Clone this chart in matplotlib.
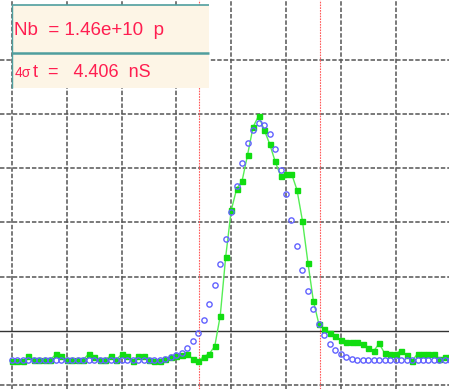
import matplotlib
matplotlib.use('Agg')
import matplotlib.pyplot as plt
from matplotlib.patches import Rectangle

plt.rcParams['lines.scale_dashes'] = False
plt.rcParams['font.family'] = ['Liberation Sans', 'DejaVu Sans']

# time axis: one sample every 0.2 ns
dt = 0.2
n_samples = 81
time_ns = [i * dt for i in range(n_samples)]

# measured bunch profile (green squares), in divisions
measured = [
    -0.55, -0.55, -0.55, -0.46, -0.53, -0.53, -0.53, -0.53, -0.43, -0.46,
    -0.53, -0.53, -0.53, -0.53, -0.42, -0.47, -0.53, -0.53, -0.46, -0.53,
    -0.43, -0.46, -0.55, -0.46, -0.46, -0.53, -0.55, -0.55, -0.52, -0.48,
    -0.46, -0.44, -0.42, -0.52, -0.55, -0.47, -0.42, -0.28, 0.28, 1.37,
    2.22, 2.62, 2.77, 3.25, 3.76, 3.96, 3.71, 3.45, 3.13, 2.86,
    2.90, 2.90, 2.60, 2.03, 1.26, 0.55, 0.13, 0.03, -0.03, -0.10,
    -0.17, -0.20, -0.20, -0.20, -0.24, -0.32, -0.37, -0.23, -0.41, -0.42,
    -0.42, -0.36, -0.44, -0.55, -0.42, -0.42, -0.42, -0.42, -0.52, -0.47,
    -0.47,
]

# gaussian fit (blue circles)
fitted = [
    -0.53, -0.53, -0.53, -0.53, -0.53, -0.53, -0.53, -0.53, -0.53, -0.53,
    -0.53, -0.53, -0.53, -0.53, -0.53, -0.53, -0.53, -0.53, -0.53, -0.53,
    -0.53, -0.53, -0.53, -0.53, -0.53, -0.53, -0.53, -0.53, -0.52, -0.48,
    -0.45, -0.40, -0.31, -0.18, -0.03, 0.20, 0.49, 0.84, 1.24, 1.70,
    2.20, 2.67, 3.09, 3.46, 3.71, 3.83, 3.80, 3.63, 3.36, 2.97,
    2.52, 2.05, 1.57, 1.13, 0.73, 0.40, 0.13, -0.08, -0.24, -0.35,
    -0.42, -0.48, -0.52, -0.53, -0.53, -0.53, -0.53, -0.53, -0.53, -0.53,
    -0.53, -0.53, -0.53, -0.53, -0.53, -0.53, -0.53, -0.53, -0.53, -0.53,
    -0.53,
]

center_ns = 9.025
four_sigma_ns = 4.406
nb_text = 'Nb  = 1.46e+10  p'

W, H = 449, 389
fig = plt.figure(figsize=(W / 100, H / 100), dpi=100)
ax = fig.add_axes([0, 0, 1, 1])

# pixel layout: x = 12 + 27.4 px per ns, y grid every 54.3 px
ax.set_xlim(-12 / 27.4, (W - 12) / 27.4)
ax.set_ylim((331 - H) / 54.3, 331 / 54.3)
for s in ax.spines.values():
    s.set_visible(False)
ax.set_xticks([])
ax.set_yticks([])

dash = (0, (3.2, 1.4))
for k in range(8):
    ax.axvline(2 * k, color='#555555', lw=1.1, ls=dash, zorder=1)
for k in range(-1, 6):
    if k == 0:
        ax.axhline(0, color='#333333', lw=1.0, zorder=1)
    else:
        ax.axhline(k, color='#555555', lw=1.1, ls=dash, zorder=1)

# 4 sigma window
for xv in (center_ns - four_sigma_ns / 2, center_ns + four_sigma_ns / 2):
    ax.axvline(xv, color='#ff5a5a', lw=0.8, ls=(0, (1.2, 0.8)), zorder=2)

ax.plot(time_ns, measured, color='#55ee55', lw=1.0, zorder=3)
ax.plot(time_ns, measured, 's', color='#11dd11', markersize=3.6, zorder=4)
ax.plot(time_ns, fitted, 'o', mfc='none', mec='#6262ff', mew=1.0,
        markersize=3.8, zorder=5)

# info box (pixel coordinates -> figure fraction)
def fx(px):
    return px / W

def fy(py):
    return 1 - py / H

box_l, box_r, box_t, box_m, box_b = 12, 209, 5, 53, 88
teal = '#4f9e9e'
ax.add_patch(Rectangle((fx(box_l), fy(box_b)), fx(box_r - box_l), (box_b - box_t) / H,
                       transform=fig.transFigure, facecolor='#fdf5e6',
                       edgecolor='none', zorder=10))
ax.plot([fx(box_l), fx(box_r)], [fy(box_t), fy(box_t)], color=teal, lw=1.2,
        transform=fig.transFigure, zorder=11, solid_capstyle='butt')
ax.plot([fx(box_l), fx(box_r)], [fy(box_m), fy(box_m)], color=teal, lw=1.8,
        transform=fig.transFigure, zorder=11, solid_capstyle='butt')
ax.plot([fx(box_l), fx(box_l)], [fy(box_t), fy(box_b)], color=teal, lw=1.0,
        transform=fig.transFigure, zorder=11, solid_capstyle='butt')

red = '#ff1e50'
fig.text(fx(14), fy(35), nb_text, color=red, fontsize=13.5, zorder=12,
         va='baseline', ha='left')
fig.text(fx(15), fy(77), '4σ', color=red, fontsize=10, zorder=12,
         va='baseline', ha='left')
fig.text(fx(33), fy(77), f't  =   {four_sigma_ns:.3f}  nS', color=red, fontsize=13,
         zorder=12, va='baseline', ha='left')

fig.savefig('out.png', dpi=100)
